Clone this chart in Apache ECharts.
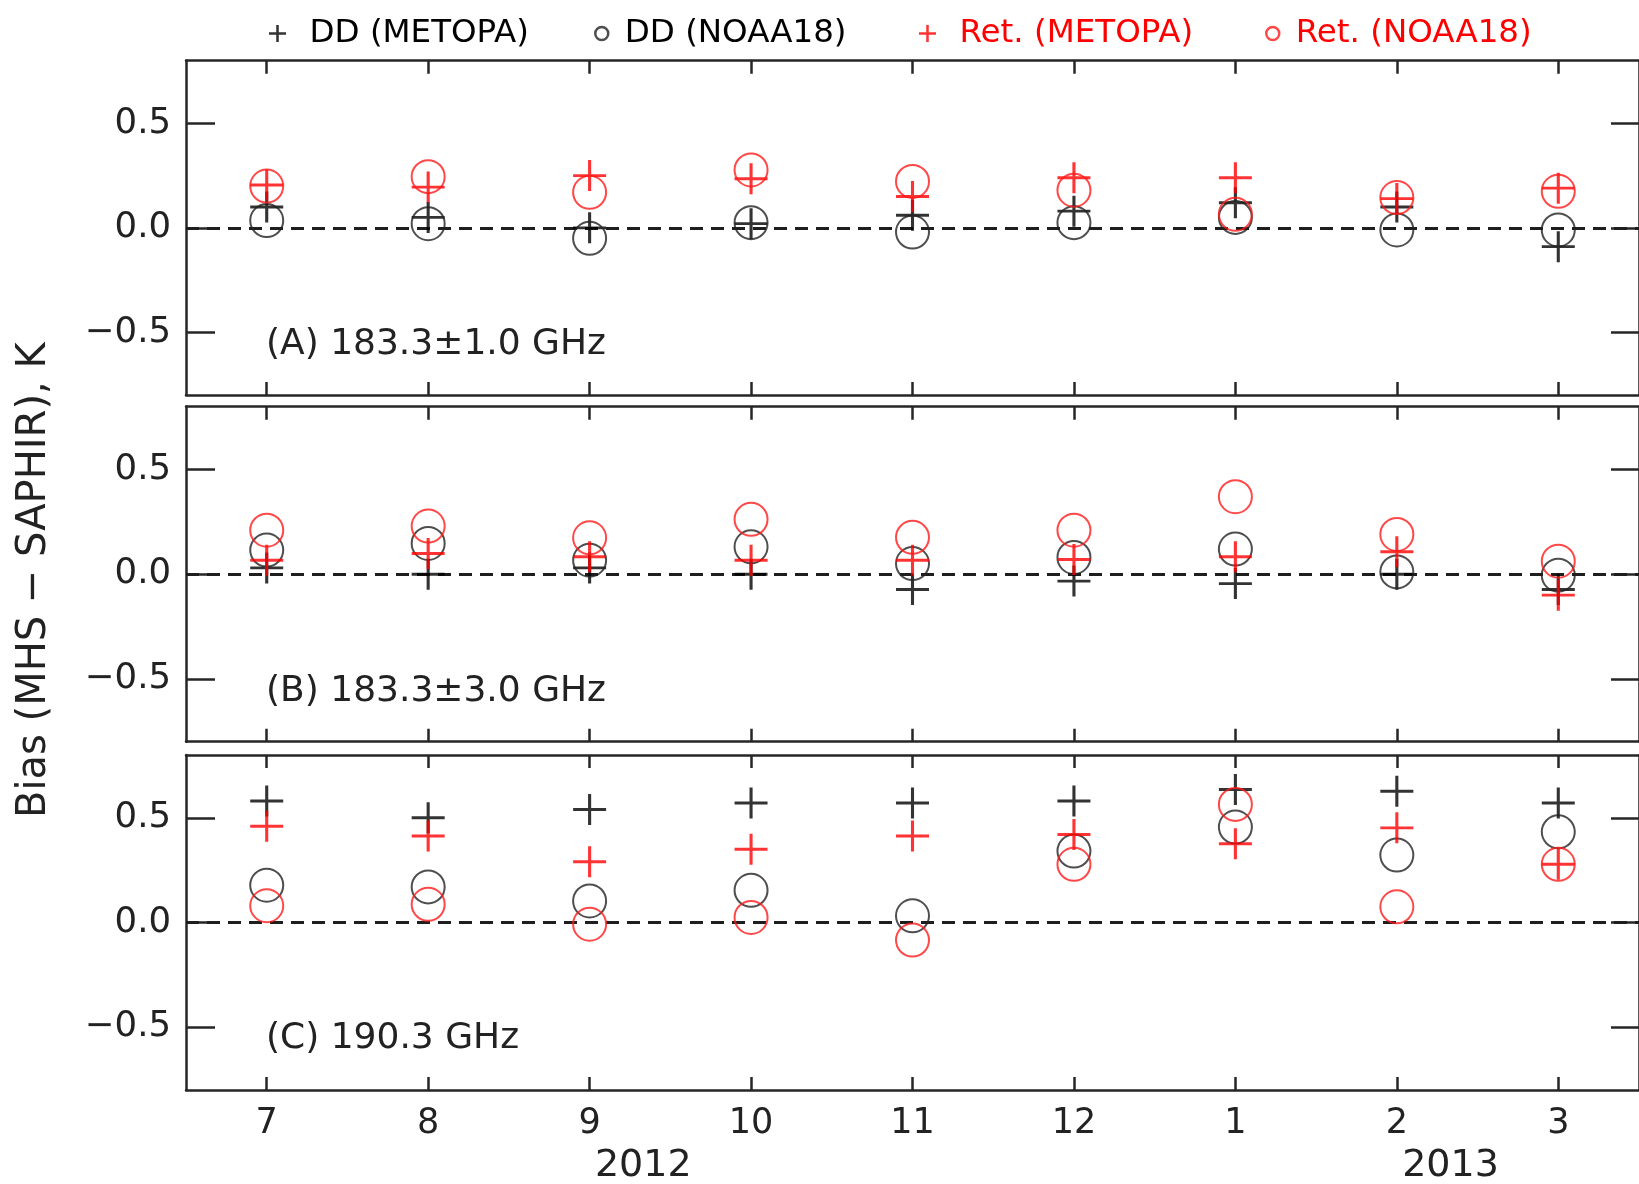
<!DOCTYPE html>
<html>
<head>
<meta charset="utf-8">
<script src="https://cdn.jsdelivr.net/npm/echarts@6/dist/echarts.min.js"></script>
<style>
  html, body { margin: 0; padding: 0; background: #ffffff; }
  #chart { width: 1639px; height: 1184px; }
</style>
</head>
<body>
<div id="chart"></div>
<script>
// Months from July 2012 to March 2013
const months = ['7', '8', '9', '10', '11', '12', '1', '2', '3'];
const years = [
  { text: '2012', month: '9' },
  { text: '2013', month: '2' }
];
const panelTitles = ['(A) 183.3±1.0 GHz', '(B) 183.3±3.0 GHz', '(C) 190.3 GHz'];
const yTickValues = [-0.5, 0, 0.5];
const seriesNames = ['DD (METOPA)', 'DD (NOAA18)', 'Ret. (METOPA)', 'Ret. (NOAA18)'];

// (A) 183.3±1.0 GHz
const ddMetopA  = [0.10, 0.05, 0.00, 0.02, 0.06, 0.08, 0.12, 0.10, -0.09];
const ddNoaaA   = [0.035, 0.02, -0.05, 0.025, -0.02, 0.025, 0.05, -0.01, -0.01];
const retMetopA = [0.205, 0.195, 0.25, 0.235, 0.15, 0.24, 0.24, 0.14, 0.19];
const retNoaaA  = [0.20, 0.245, 0.17, 0.277, 0.222, 0.18, 0.065, 0.145, 0.175];

// (B) 183.3±3.0 GHz
const ddMetopB  = [0.03, 0.00, 0.03, 0.00, -0.073, -0.033, -0.045, 0.00, -0.073];
const ddNoaaB   = [0.115, 0.147, 0.067, 0.131, 0.051, 0.08, 0.12, 0.011, -0.005];
const retMetopB = [0.067, 0.099, 0.083, 0.067, 0.067, 0.07, 0.083, 0.107, -0.10];
const retNoaaB  = [0.21, 0.23, 0.174, 0.262, 0.176, 0.21, 0.37, 0.19, 0.062];

// (C) 190.3 GHz
const ddMetopC  = [0.58, 0.50, 0.54, 0.571, 0.571, 0.58, 0.635, 0.627, 0.571];
const ddNoaaC   = [0.178, 0.17, 0.103, 0.154, 0.032, 0.341, 0.456, 0.322, 0.433];
const retMetopC = [0.46, 0.413, 0.29, 0.35, 0.413, 0.42, 0.376, 0.452, 0.278];
const retNoaaC  = [0.08, 0.087, -0.008, 0.024, -0.084, 0.278, 0.564, 0.075, 0.278];

const panels = [
  [ddMetopA, ddNoaaA, retMetopA, retNoaaA],
  [ddMetopB, ddNoaaB, retMetopB, retNoaaB],
  [ddMetopC, ddNoaaC, retMetopC, retNoaaC]
];

const FONT = 'DejaVu Sans';
const AXIS_COLOR = '#262626';
const PLUS = 'path://M0,14.5H32V17.5H0Z M14.5,0H17.5V32H14.5Z';
const PLUS_ICON = 'path://M0,6.8H16V9.2H0Z M6.8,0H9.2V16H6.8Z';

// plot boxes (the right frame edge sits just past the canvas)
const gridBoxes = [
  { left: 186, top: 60.7, width: 1464, height: 334.3 },
  { left: 186, top: 406.7, width: 1464, height: 335 },
  { left: 186, top: 755, width: 1464, height: 335 }
];

const styles = [
  { symbol: PLUS, symbolSize: [33, 31], itemStyle: { color: '#000000' } },
  { symbol: 'circle', symbolSize: 33, itemStyle: { color: 'transparent', borderColor: '#222222', borderWidth: 2 } },
  { symbol: PLUS, symbolSize: [33, 31], itemStyle: { color: '#ff0000' } },
  { symbol: 'circle', symbolSize: 33, itemStyle: { color: 'transparent', borderColor: '#ff1a1a', borderWidth: 2 } }
];

const grid = [], xAxis = [], yAxis = [], series = [], title = [];

gridBoxes.forEach((box, p) => {
  grid.push(Object.assign({ containLabel: false }, box));
  const lastPanel = p === gridBoxes.length - 1;
  const lineStyle = { color: AXIS_COLOR, width: 2.5 };
  // bottom and top frame edges with inward ticks
  xAxis.push({
    type: 'category', gridIndex: p, position: 'bottom', data: months,
    axisLine: { show: true, onZero: false, lineStyle },
    axisTick: { show: true, inside: true, alignWithLabel: true, interval: 0, length: 13, lineStyle },
    axisLabel: {
      show: lastPanel, interval: 0, margin: 16,
      fontFamily: FONT, fontSize: 35, color: '#222'
    },
    splitLine: { show: false }
  });
  xAxis.push({
    type: 'category', gridIndex: p, position: 'top', data: months,
    axisLine: { show: true, onZero: false, lineStyle },
    axisTick: { show: true, inside: true, alignWithLabel: true, interval: 0, length: 13, lineStyle },
    axisLabel: { show: false },
    splitLine: { show: false }
  });
  const yLeft = {
    type: 'value', gridIndex: p, position: 'left', min: -0.8, max: 0.8,
    axisLine: { show: true, onZero: false, lineStyle },
    axisTick: { show: true, inside: true, length: 29, customValues: yTickValues, lineStyle },
    axisLabel: {
      show: true, customValues: yTickValues, margin: 15,
      fontFamily: FONT, fontSize: 35.5, color: '#222',
      formatter: v => (v < 0 ? '\u2212' : '') + Math.abs(v).toFixed(1)
    },
    splitLine: { show: false }
  };
  if (p === 1) {
    Object.assign(yLeft, {
      name: 'Bias (MHS \u2212 SAPHIR), K',
      nameLocation: 'middle',
      nameRotate: 90,
      nameGap: 131,
      nameTextStyle: { fontFamily: FONT, fontSize: 40, color: '#222', padding: [0, 12, 0, 0] }
    });
  }
  yAxis.push(yLeft);
  yAxis.push({
    type: 'value', gridIndex: p, position: 'right', min: -0.8, max: 0.8,
    axisLine: { show: true, onZero: false, lineStyle },
    axisTick: { show: true, inside: true, length: 28, customValues: yTickValues, lineStyle },
    axisLabel: { show: false },
    splitLine: { show: false }
  });

  panels[p].forEach((values, s) => {
    const st = styles[s];
    const item = {
      type: 'scatter',
      name: seriesNames[s],
      xAxisIndex: 2 * p,
      yAxisIndex: 2 * p,
      data: values,
      symbol: st.symbol,
      symbolSize: st.symbolSize,
      itemStyle: st.itemStyle,
      z: 3 + s
    };
    if (s === 0) {
      item.markLine = {
        silent: true,
        symbol: 'none',
        label: { show: false },
        lineStyle: { color: '#1e1e1e', width: 3, type: [13, 8] },
        data: [{ yAxis: 0 }],
        z: 2
      };
    }
    series.push(item);
  });

  title.push({
    text: panelTitles[p],
    left: 266,
    top: [327, 674, 1021][p],
    padding: 0,
    textStyle: { fontFamily: FONT, fontSize: 36, fontWeight: 'normal', color: '#222' }
  });
});

// one legend block per entry, laid out in a single row above the plots
const legendLayout = [
  { left: 269, itemWidth: 54, itemHeight: 17, icon: PLUS_ICON, color: '#000000' },
  { left: 594, itemWidth: 36, itemHeight: 13, icon: 'circle', color: '#000000' },
  { left: 919, itemWidth: 54, itemHeight: 17, icon: PLUS_ICON, color: '#ff0000' },
  { left: 1265, itemWidth: 36, itemHeight: 13, icon: 'circle', color: '#ff0000' }
];
const legend = legendLayout.map((l, i) => ({
  data: [{ name: seriesNames[i], icon: l.icon }],
  left: l.left,
  top: 17,
  padding: 0,
  itemWidth: l.itemWidth,
  itemHeight: l.itemHeight,
  symbolKeepAspect: true,
  selectedMode: false,
  itemStyle: { borderWidth: 2.5 },
  textStyle: { fontFamily: FONT, fontSize: 32.5, color: l.color }
}));

const chart = echarts.init(document.getElementById('chart'), null, { renderer: 'canvas' });
chart.setOption({
  animation: false,
  backgroundColor: '#ffffff',
  grid, xAxis, yAxis, series, title, legend
});

// year captions under the month labels of the bottom panel
const band = gridBoxes[2].width / months.length;
chart.setOption({
  graphic: years.map(y => ({
    type: 'text',
    x: chart.convertToPixel({ xAxisIndex: 4 }, y.month) + 0.33 * band,
    y: 1166,
    style: {
      text: y.text,
      fontFamily: FONT,
      fontSize: 38,
      fill: '#222',
      align: 'center',
      verticalAlign: 'middle'
    }
  }))
});
</script>
</body>
</html>
